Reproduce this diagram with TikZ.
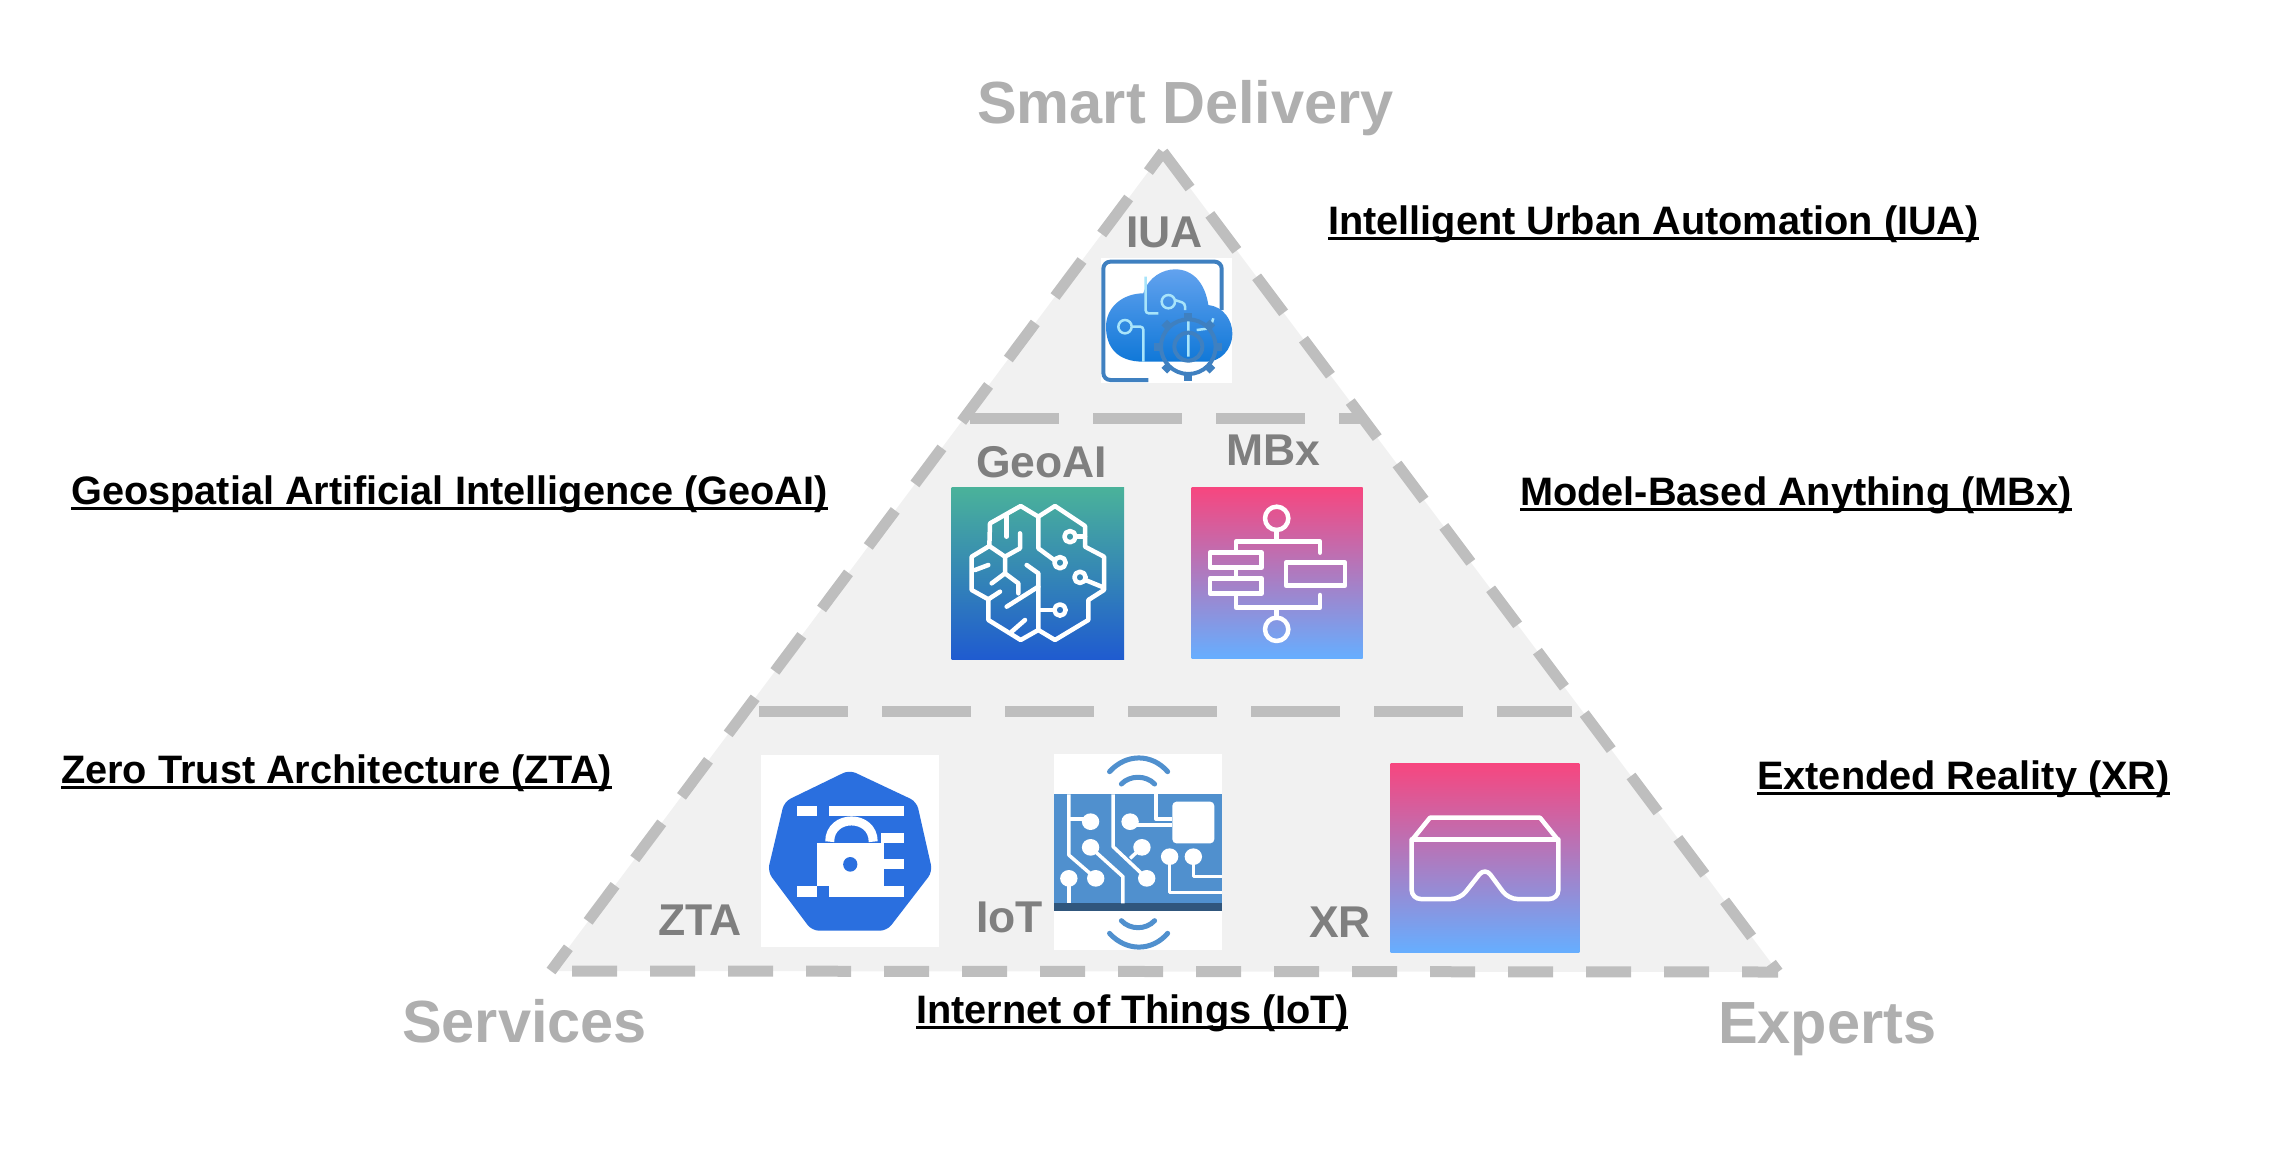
\documentclass[tikz,border=0pt]{standalone}
\usepackage{fontspec}
\setmainfont{Liberation Sans}

\definecolor{dashgray}{HTML}{BEBEBE}
\definecolor{fillgray}{HTML}{F1F1F1}
\definecolor{headgray}{HTML}{AFAFAF}
\definecolor{taggray}{HTML}{7F7F7F}
\definecolor{framblue}{HTML}{3F80C0}
\definecolor{circblue}{HTML}{5090CE}
\definecolor{kubeblue}{HTML}{2A6FDF}
\definecolor{awspink}{HTML}{F7467F}
\definecolor{awssky}{HTML}{66AEFF}
\definecolor{awsgreen}{HTML}{4AB29A}
\definecolor{awsblue}{HTML}{1F5BD0}
\definecolor{cloudtop}{HTML}{62A2EE}
\definecolor{cloudlow}{HTML}{1078D8}
\definecolor{circuitline}{HTML}{A8E4FA}

\newcommand{\undertext}[1]{\setbox0=\hbox{#1}\rlap{\rule[-6pt]{\wd0}{3pt}}\box0}

\tikzset{
  heading/.style={anchor=base west,inner sep=0,text=headgray,font=\fontsize{59.5}{68}\selectfont\bfseries},
  tag/.style={anchor=base west,inner sep=0,text=taggray,font=\fontsize{44.5}{50}\selectfont\bfseries},
  caption/.style={anchor=base west,inner sep=0,font=\fontsize{39.7}{48}\selectfont\bfseries},
  edge/.style={draw=dashgray,line width=11pt,dash pattern=on 45pt off 33pt},
  band/.style={draw=dashgray,line width=11pt,dash pattern=on 89pt off 34pt},
  icon/.style={draw=white,line width=4.5pt,line join=round,line cap=round},
  trace/.style={draw=white,line width=3.5pt,line join=round},
  wire/.style={draw=circuitline,line width=2.5pt,rounded corners=3pt},
}

\begin{document}
\begin{tikzpicture}[x=1pt,y=-1pt]
\useasboundingbox (0,0) rectangle (2272,1149);

\coordinate (apex) at (1163,152);
\coordinate (left) at (551,971);
\coordinate (right) at (1778,972);
\coordinate (upA) at (970,418);
\coordinate (upB) at (1362,418);
\coordinate (lowA) at (759,711);
\coordinate (lowB) at (1572,711);

\fill[fillgray] (apex) -- (right) -- (left) -- cycle;
\draw[edge] (apex) -- (right);
\draw[edge,dash phase=9pt] (right) -- (left);
\draw[edge,dash phase=16pt] (left) -- (apex);
\draw[band] (upA) -- (upB);
\draw[band] (lowA) -- (lowB);

\node[heading] (smart) at (977,123) {Smart Delivery};
\node[heading] (services) at (402,1042) {Services};
\node[heading] (experts) at (1718,1043) {Experts};

\node[tag] (iua) at (1126,247) {IUA};
\node[tag] (geoai) at (976,477) {GeoAI};
\node[tag] (mbx) at (1226,465) {MBx};
\node[tag] (zta) at (658,935) {ZTA};
\node[tag] (iot) at (976,932) {IoT};
\node[tag] (xr) at (1309,937) {XR};

\node[caption] (capiua) at (1328,234) {\undertext{Intelligent Urban Automation (IUA)}};
\node[caption] (capgeo) at (71,504) {\undertext{Geospatial Artificial Intelligence (GeoAI)}};
\node[caption] (capmbx) at (1520,505) {\undertext{Model-Based Anything (MBx)}};
\node[caption] (capzta) at (61,783) {\undertext{Zero Trust Architecture (ZTA)}};
\node[caption] (capxr) at (1757,789) {\undertext{Extended Reality (XR)}};
\node[caption] (capiot) at (916,1023) {\undertext{Internet of Things (IoT)}};

% cloud
\begin{scope}[shift={(1000,130)},scale=1/3]
\fill[white] (303,385) rectangle (697,760);
\draw[framblue,line width=4pt,rounded corners=7pt] (445,750) -- (310,750) -- (310,395) -- (665,395) -- (665,540);
\shade[top color=cloudtop,bottom color=cloudlow] (430,695)
  .. controls (350,695) and (318,650) .. (318,590)
  .. controls (318,530) and (370,490) .. (430,490)
  .. controls (445,440) and (490,418) .. (525,418)
  .. controls (580,418) and (615,460) .. (625,525)
  .. controls (670,530) and (697,570) .. (697,610)
  .. controls (697,660) and (660,695) .. (620,695) -- cycle;
\draw[wire] (437,440) -- (437,550) -- (475,550);
\draw[wire] (505,515) circle[radius=20] (525,510) -- (555,520) -- (555,540);
\draw[wire] (375,590) circle[radius=20] (395,590) -- (430,590) -- (430,695);
\draw[wire] (565,560) -- (565,680) (590,600) -- (630,595) -- (640,565);
\begin{scope}[shift={(565,650)}]
\draw[framblue,line width=4pt] (0,0) circle[radius=42] (0,0) circle[radius=82];
\foreach \a in {0,45,...,315} {
  \draw[framblue,line width=8pt] (\a:80) -- (\a:102);
}
\end{scope}
\end{scope}

% brain
\begin{scope}[shift={(930,420)},scale=1/3]
\shade[top color=awsgreen,bottom color=awsblue] (65,202) rectangle (582,718);
\draw[icon] (325,290) -- (272,258) -- (180,310) -- (178,378) -- (125,410) -- (125,510) -- (175,538) -- (175,600)
  -- (272,660) -- (325,630) -- (375,660) -- (475,600) -- (475,540) -- (522,510) -- (522,410) -- (465,380)
  -- (465,318) -- (375,258) -- (325,290) -- (325,385) -- (375,422);
\draw[icon] (325,630) -- (325,500) -- (230,560);
\draw[icon] (290,435) -- (325,460) -- (325,500);
\draw[icon] (230,285) -- (230,350);
\draw[icon] (270,340) -- (270,385) -- (225,410) -- (178,378);
\draw[icon] (225,410) -- (225,460) -- (265,490) -- (265,520);
\draw[icon] (135,450) -- (175,435);
\draw[icon] (185,490) -- (225,460);
\draw[icon] (175,538) -- (210,515);
\draw[icon] (245,635) -- (285,600);
\foreach \x/\y in {420/350,390/428,450/472,390/570} {
  \draw[icon] (\x,\y) circle[radius=17];
}
\draw[icon] (437,350) -- (465,350);
\draw[icon] (466,480) -- (515,500);
\draw[icon] (373,570) -- (325,570);
\end{scope}

% flow chart
\begin{scope}[shift={(930,420)},scale=1/3]
\shade[top color=awspink,bottom color=awssky] (785,202) rectangle (1298,715);
\draw[icon] (1040,295) circle[radius=35] (1040,628) circle[radius=35];
\draw[icon] (1040,330) -- (1040,365);
\draw[icon] (1170,398) -- (1170,365) -- (918,365) -- (918,398);
\draw[icon] (840,398) rectangle (995,443);
\draw[icon] (918,443) -- (918,475);
\draw[icon] (840,475) rectangle (995,520);
\draw[icon] (918,520) -- (918,563) -- (1170,563) -- (1170,525);
\draw[icon] (1040,563) -- (1040,593);
\draw[icon] (1068,428) rectangle (1245,497);
\end{scope}

% headset
\begin{scope}[shift={(1350,750)},scale=1/3]
\shade[top color=awspink,bottom color=awssky] (122,40) rectangle (688,607);
\draw[icon] (190,265) -- (240,203) -- (570,203) -- (620,265);
\draw[icon] (190,268) -- (620,268);
\draw[icon,rounded corners=9pt] (185,268) -- (185,447) -- (330,447) -- (405,352) -- (475,447) -- (625,447) -- (625,268);
\end{scope}

% lock
\begin{scope}[shift={(640,740)},xscale=1/2.53,yscale=1/3]
\fill[white] (307,45) rectangle (757,620);
\fill[kubeblue,rounded corners=7pt] (530,90) -- (700,185) -- (740,395) -- (625,572) -- (435,572) -- (323,395) -- (365,185) -- cycle;
\foreach \xa/\ya/\xb/\yb in {397/197/447/228,478/197/667/228,610/280/667/308,610/358/667/388,397/438/447/470,478/438/667/470} {
  \fill[white] (\xa,\ya) rectangle (\xb,\yb);
}
\fill[white] (447,310) rectangle (618,438);
\fill[kubeblue] (532,373) ellipse[x radius=18,y radius=22];
\draw[white,line width=9pt] (480,305) .. controls (480,222) and (590,222) .. (590,305);
\end{scope}

% circuit
\begin{scope}[shift={(640,740)},xscale=1/2.53,yscale=1/3]
\fill[white] (1048,42) rectangle (1472,630);
\fill[circblue] (1048,163) rectangle (1472,490);
\fill[circblue!60!black] (1048,490) rectangle (1472,512);
\draw[circblue,line width=5pt,line cap=round] (1188,95) .. controls (1230,40) and (1295,40) .. (1335,95);
\draw[circblue,line width=5pt,line cap=round] (1218,132) .. controls (1240,105) and (1280,105) .. (1302,132);
\draw[circblue,line width=5pt,line cap=round] (1218,542) .. controls (1240,570) and (1280,570) .. (1302,542);
\draw[circblue,line width=5pt,line cap=round] (1188,580) .. controls (1230,635) and (1295,635) .. (1335,580);
\fill[white,rounded corners=4pt] (1347,185) rectangle (1453,310);
\draw[trace] (1085,163) -- (1085,345) -- (1153,415);
\draw[trace] (1085,237) -- (1140,237);
\draw[trace] (1085,415) -- (1085,490);
\draw[trace] (1140,322) -- (1222,410) -- (1222,490);
\draw[trace] (1197,163) -- (1197,320) -- (1282,415);
\draw[trace] (1240,255) -- (1347,255);
\draw[trace] (1305,163) -- (1305,237) -- (1347,237);
\draw[trace] (1270,322) -- (1240,355);
\draw[trace] (1340,350) -- (1340,458) -- (1472,458);
\draw[trace] (1400,350) -- (1400,410) -- (1472,410);
\foreach \x/\y in {1140/245,1240/245,1140/322,1270/322,1085/415,1153/415,1282/415,1340/350,1400/350} {
  \fill[white] (\x,\y) ellipse[x radius=22,y radius=25];
}
\end{scope}

\end{tikzpicture}
\end{document}
